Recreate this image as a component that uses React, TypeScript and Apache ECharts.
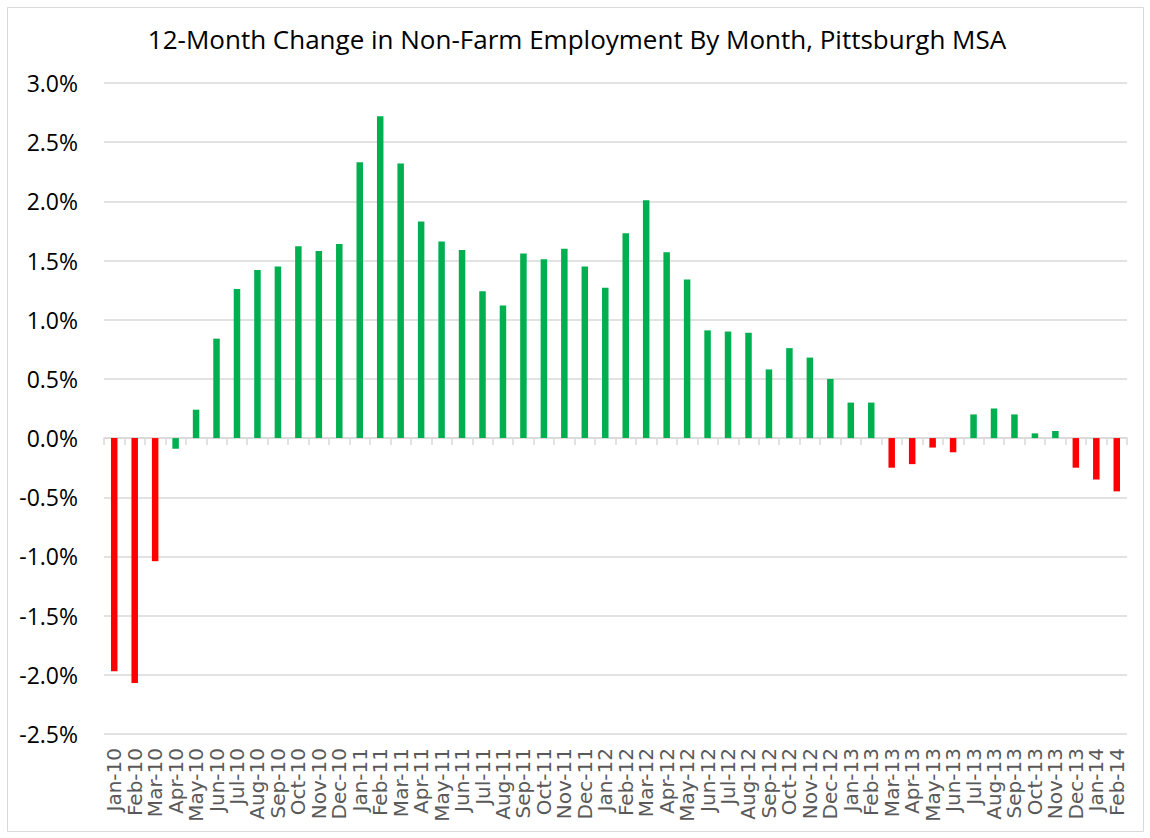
import React, { useEffect, useRef } from "react";
import * as echarts from "echarts";

const TITLE = "12-Month Change in Non-Farm Employment By Month, Pittsburgh MSA";

const months = [
  "Jan-10", "Feb-10", "Mar-10", "Apr-10", "May-10", "Jun-10", "Jul-10", "Aug-10", "Sep-10", "Oct-10", "Nov-10", "Dec-10",
  "Jan-11", "Feb-11", "Mar-11", "Apr-11", "May-11", "Jun-11", "Jul-11", "Aug-11", "Sep-11", "Oct-11", "Nov-11", "Dec-11",
  "Jan-12", "Feb-12", "Mar-12", "Apr-12", "May-12", "Jun-12", "Jul-12", "Aug-12", "Sep-12", "Oct-12", "Nov-12", "Dec-12",
  "Jan-13", "Feb-13", "Mar-13", "Apr-13", "May-13", "Jun-13", "Jul-13", "Aug-13", "Sep-13", "Oct-13", "Nov-13", "Dec-13",
  "Jan-14", "Feb-14",
];

// 12-month change, percent
const changePct = [
  -1.97, -2.07, -1.04, -0.09, 0.24, 0.84, 1.26, 1.42, 1.45, 1.62, 1.58, 1.64,
  2.33, 2.72, 2.32, 1.83, 1.66, 1.59, 1.24, 1.12, 1.56, 1.51, 1.60, 1.45,
  1.27, 1.73, 2.01, 1.57, 1.34, 0.91, 0.90, 0.89, 0.58, 0.76, 0.68, 0.50,
  0.30, 0.30, -0.25, -0.22, -0.08, -0.12, 0.20, 0.25, 0.20, 0.04, 0.06, -0.25,
  -0.35, -0.45,
];

// months drawn in red in the original chart
const redMonths = [
  "Jan-10", "Feb-10", "Mar-10", "Mar-13", "Apr-13", "May-13", "Jun-13", "Dec-13", "Jan-14", "Feb-14",
];

const yTicks = { min: -2.5, max: 3.0, interval: 0.5 };

const GREEN = "#00B050";
const RED = "#FF0000";
const GRID = "#D9D9D9";

export default function App() {
  const ref = useRef<HTMLDivElement>(null);

  useEffect(() => {
    if (!ref.current) return;
    const chart = echarts.init(ref.current, undefined, { renderer: "svg" });
    const option = {
      animation: false,
      backgroundColor: "#ffffff",
      title: {
        text: TITLE,
        left: 572,
        textAlign: "center",
        top: 21,
        textStyle: {
          fontFamily: "Open Sans",
          fontSize: 26,
          fontWeight: "normal",
          color: "#000000",
        },
      },
      graphic: [
        {
          type: "rect",
          shape: { x: 7.5, y: 7.5, width: 1136, height: 824 },
          style: { fill: "transparent", stroke: GRID, lineWidth: 1 },
          silent: true,
        },
      ],
      grid: {
        left: 104,
        right: 23,
        top: 83,
        bottom: 104,
        containLabel: false,
        outerBoundsMode: "none",
      },
      xAxis: [
        {
          type: "category",
          data: months,
          position: "bottom",
          axisLine: { show: false, onZero: false },
          axisTick: { show: false },
          splitLine: { show: false },
          axisLabel: {
            interval: 0,
            rotate: 90,
            margin: 14,
            fontFamily: "DejaVu Sans",
            fontSize: 20,
            color: "#595959",
          },
        },
        {
          type: "category",
          data: months,
          position: "bottom",
          axisLine: { show: true, onZero: true, lineStyle: { color: GRID, width: 1.5 } },
          axisTick: { show: true, interval: 0, length: 7, lineStyle: { color: GRID, width: 1.5 } },
          axisLabel: { show: false },
          splitLine: { show: false },
        },
      ],
      yAxis: {
        type: "value",
        min: yTicks.min,
        max: yTicks.max,
        interval: yTicks.interval,
        axisLine: { show: false },
        axisTick: { show: false },
        splitLine: { show: true, lineStyle: { color: GRID, width: 1.5 } },
        axisLabel: {
          margin: 26,
          fontFamily: "Open Sans",
          fontSize: 23,
          color: "#000000",
          formatter: (v: number) => v.toFixed(1) + "%",
        },
      },
      series: [
        {
          type: "bar",
          xAxisIndex: 0,
          barWidth: 6.5,
          data: changePct.map((v, i) => ({
            value: v,
            itemStyle: { color: redMonths.includes(months[i]) ? RED : GREEN },
          })),
        },
      ],
    };
    chart.setOption(option as any);
    return () => chart.dispose();
  }, []);

  return (
    <div
      ref={ref}
      style={{ position: "fixed", left: 0, top: 0, width: 1150, height: 838 }}
    />
  );
}
